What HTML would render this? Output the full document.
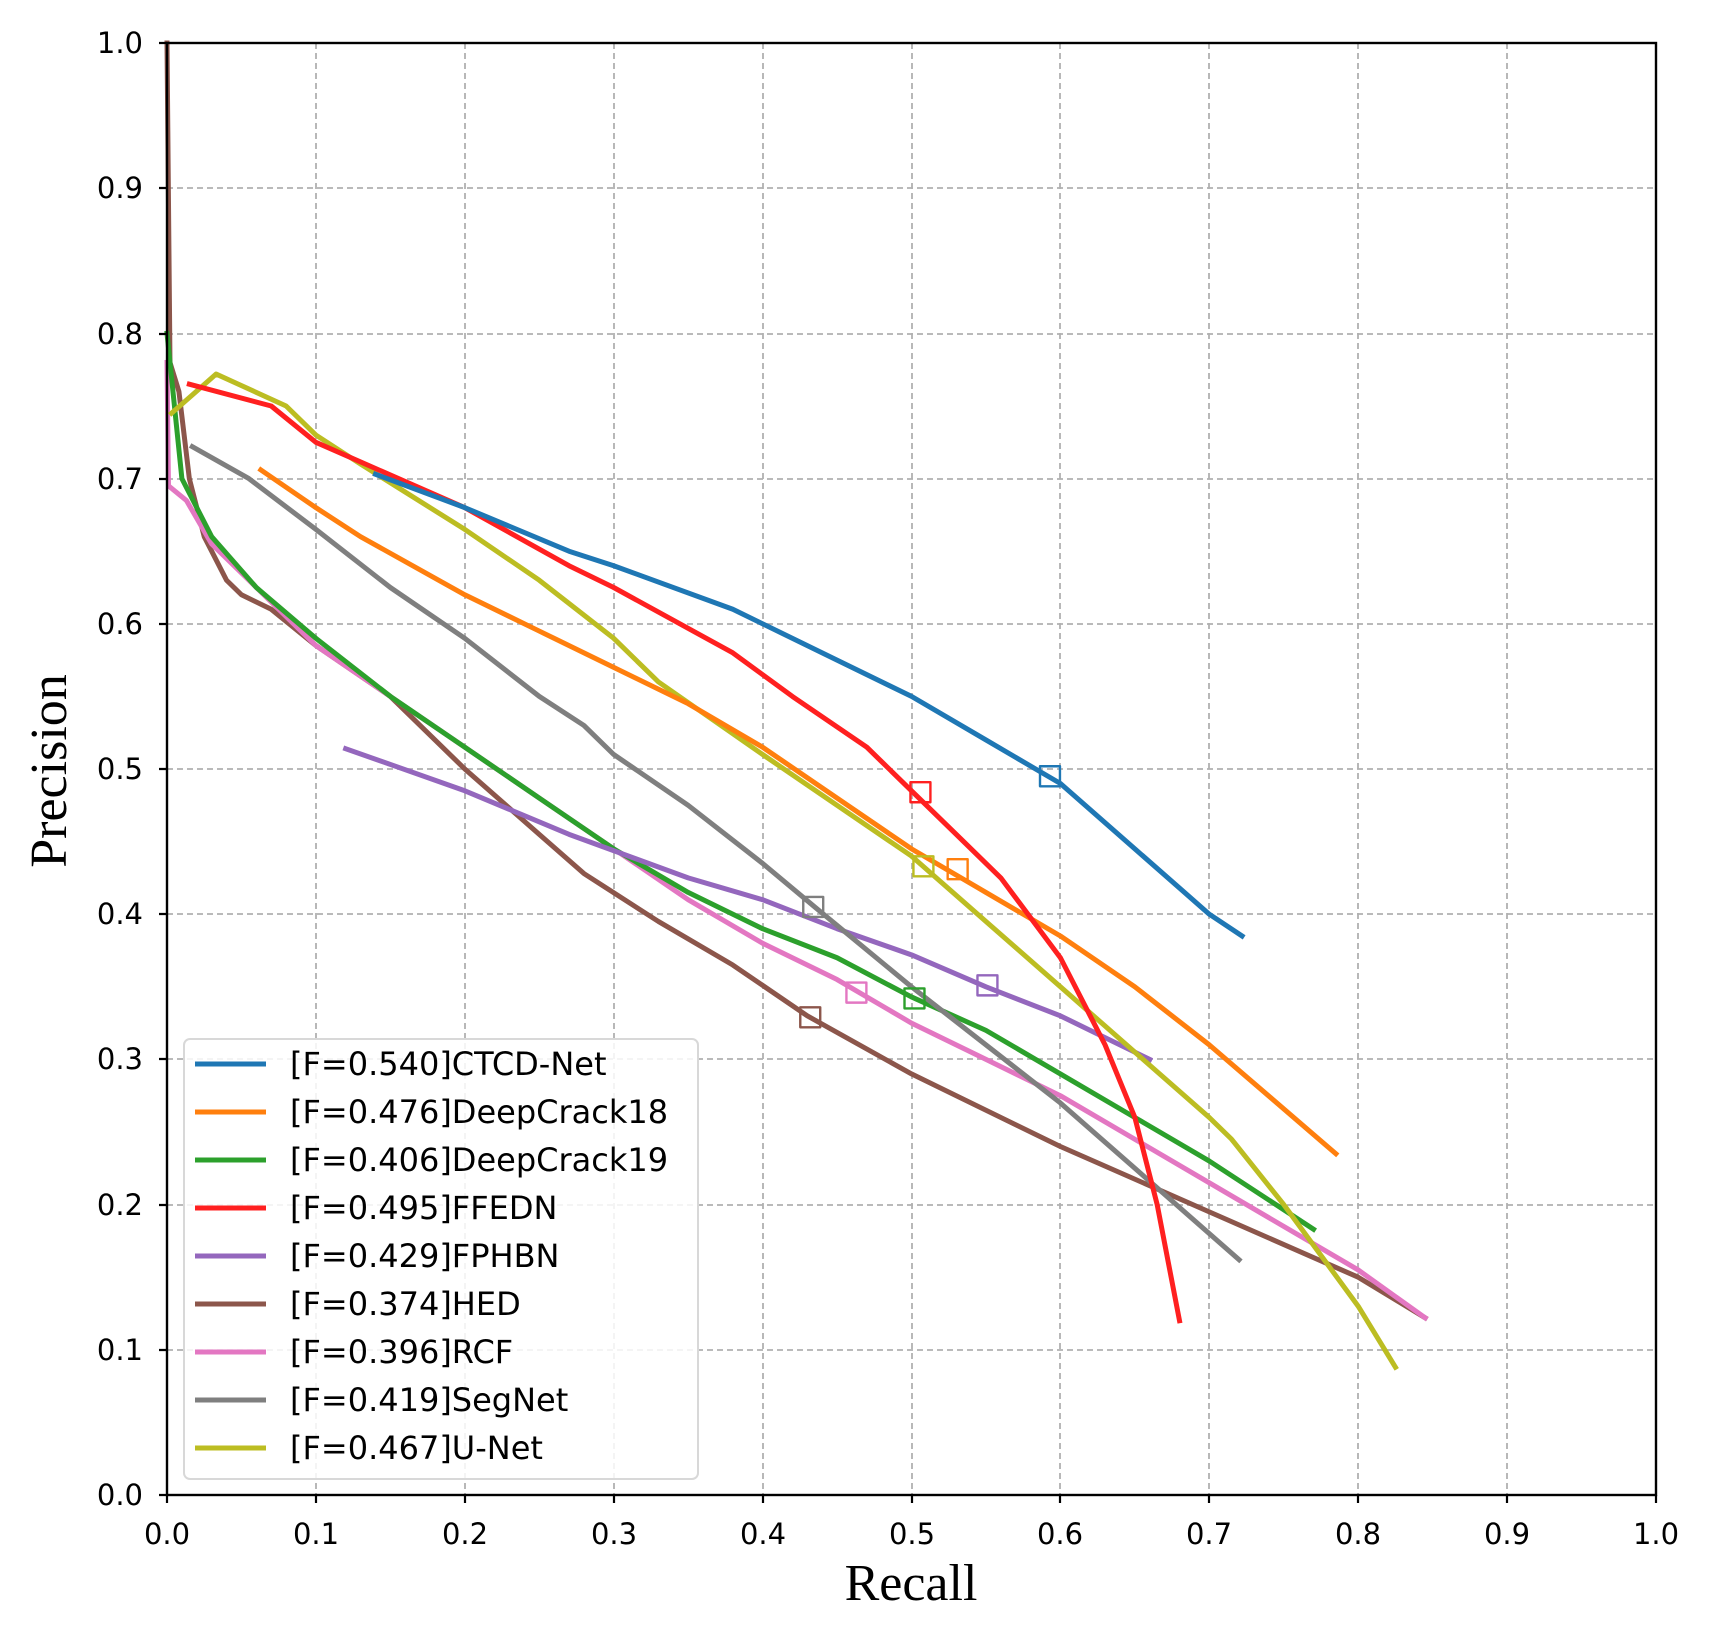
<!DOCTYPE html>
<html><head><meta charset="utf-8"><style>body{margin:0;background:#fff}</style></head><body>
<svg width="1713" height="1626" xmlns="http://www.w3.org/2000/svg" font-family="DejaVu Sans, Liberation Sans, sans-serif">
<rect width="1713" height="1626" fill="#fff"/>
<g stroke="#b0b0b0" stroke-width="1.8" stroke-dasharray="6,4" fill="none">
<path d="M316 43V1495M465 43V1495M614 43V1495M763 43V1495M912 43V1495M1060 43V1495M1209 43V1495M1358 43V1495M1507 43V1495"/>
<path d="M167 1350H1656M167 1205H1656M167 1059H1656M167 914H1656M167 769H1656M167 624H1656M167 479H1656M167 334H1656M167 188H1656"/>
</g>
<g transform="translate(167,1495) scale(1489,-1452)" fill="none" stroke-width="5" stroke-linejoin="round" stroke-linecap="square">
<polyline vector-effect="non-scaling-stroke" stroke="#8c564b" points="0,1 0.002,0.78 0.008,0.76 0.015,0.7 0.025,0.66 0.04,0.63 0.05,0.62 0.07,0.61 0.1,0.585 0.15,0.55 0.2,0.5 0.25,0.455 0.28,0.428 0.33,0.395 0.38,0.365 0.43,0.33 0.5,0.29 0.6,0.24 0.7,0.195 0.8,0.15 0.845,0.122"/>
<polyline vector-effect="non-scaling-stroke" stroke="#e377c2" points="0,0.78 0.001,0.695 0.013,0.685 0.03,0.655 0.06,0.625 0.1,0.585 0.15,0.55 0.2,0.515 0.25,0.48 0.3,0.445 0.35,0.41 0.4,0.38 0.45,0.355 0.5,0.325 0.55,0.3 0.6,0.275 0.7,0.215 0.8,0.155 0.845,0.122"/>
<polyline vector-effect="non-scaling-stroke" stroke="#2ca02c" points="0,0.8 0.01,0.7 0.03,0.66 0.06,0.625 0.1,0.59 0.15,0.55 0.2,0.515 0.25,0.48 0.3,0.445 0.35,0.415 0.4,0.39 0.45,0.37 0.5,0.343 0.55,0.32 0.6,0.29 0.65,0.26 0.7,0.23 0.77,0.183"/>
<polyline vector-effect="non-scaling-stroke" stroke="#9467bd" points="0.12,0.514 0.2,0.485 0.27,0.455 0.35,0.425 0.4,0.41 0.45,0.39 0.5,0.372 0.55,0.35 0.6,0.33 0.66,0.3"/>
<polyline vector-effect="non-scaling-stroke" stroke="#7f7f7f" points="0.017,0.722 0.055,0.7 0.1,0.665 0.15,0.625 0.2,0.59 0.25,0.55 0.28,0.53 0.3,0.51 0.35,0.475 0.4,0.435 0.435,0.405 0.5,0.35 0.55,0.31 0.6,0.27 0.65,0.225 0.72,0.162"/>
<polyline vector-effect="non-scaling-stroke" stroke="#bcbd22" points="0.003,0.745 0.033,0.772 0.08,0.75 0.1,0.73 0.13,0.71 0.2,0.665 0.25,0.63 0.3,0.59 0.33,0.56 0.4,0.51 0.45,0.475 0.5,0.44 0.55,0.395 0.6,0.35 0.65,0.305 0.7,0.26 0.715,0.245 0.75,0.2 0.8,0.13 0.825,0.088"/>
<polyline vector-effect="non-scaling-stroke" stroke="#ff7f0e" points="0.063,0.706 0.1,0.68 0.13,0.66 0.2,0.62 0.25,0.595 0.3,0.57 0.35,0.545 0.4,0.515 0.45,0.48 0.5,0.445 0.55,0.415 0.6,0.385 0.65,0.35 0.7,0.31 0.785,0.235"/>
<polyline vector-effect="non-scaling-stroke" stroke="#ff2020" points="0.015,0.765 0.07,0.75 0.1,0.725 0.2,0.68 0.27,0.64 0.3,0.625 0.38,0.58 0.42,0.55 0.47,0.515 0.5,0.485 0.53,0.455 0.56,0.425 0.6,0.37 0.63,0.31 0.65,0.26 0.665,0.2 0.68,0.12"/>
<polyline vector-effect="non-scaling-stroke" stroke="#1f77b4" points="0.14,0.703 0.2,0.68 0.27,0.65 0.3,0.64 0.38,0.61 0.45,0.575 0.5,0.55 0.55,0.52 0.6,0.49 0.65,0.445 0.7,0.4 0.722,0.385"/>
<g stroke-width="2.4" stroke-linecap="butt">
<rect vector-effect="non-scaling-stroke" stroke="#1f77b4" x="0.5863" y="0.4881" width="0.0134" height="0.0138"/>
<rect vector-effect="non-scaling-stroke" stroke="#ff2020" x="0.4993" y="0.4771" width="0.0134" height="0.0138"/>
<rect vector-effect="non-scaling-stroke" stroke="#ff7f0e" x="0.5243" y="0.4241" width="0.0134" height="0.0138"/>
<rect vector-effect="non-scaling-stroke" stroke="#bcbd22" x="0.5013" y="0.4261" width="0.0134" height="0.0138"/>
<rect vector-effect="non-scaling-stroke" stroke="#7f7f7f" x="0.4273" y="0.3981" width="0.0134" height="0.0138"/>
<rect vector-effect="non-scaling-stroke" stroke="#9467bd" x="0.5443" y="0.3441" width="0.0134" height="0.0138"/>
<rect vector-effect="non-scaling-stroke" stroke="#2ca02c" x="0.4953" y="0.3351" width="0.0134" height="0.0138"/>
<rect vector-effect="non-scaling-stroke" stroke="#e377c2" x="0.4563" y="0.3391" width="0.0134" height="0.0138"/>
<rect vector-effect="non-scaling-stroke" stroke="#8c564b" x="0.4253" y="0.3221" width="0.0134" height="0.0138"/>
</g>
</g>
<rect x="167" y="43" width="1489" height="1452" fill="none" stroke="#000" stroke-width="2.4"/>
<g stroke="#000" stroke-width="2.2">
<path d="M167 1495v8M316 1495v8M465 1495v8M614 1495v8M763 1495v8M912 1495v8M1060 1495v8M1209 1495v8M1358 1495v8M1507 1495v8M1656 1495v8"/>
<path d="M167 1495h-8M167 1350h-8M167 1205h-8M167 1059h-8M167 914h-8M167 769h-8M167 624h-8M167 479h-8M167 334h-8M167 188h-8M167 43h-8"/>
</g>
<g font-size="29" fill="#000" text-anchor="middle">
<text x="167" y="1544">0.0</text><text x="316" y="1544">0.1</text><text x="465" y="1544">0.2</text><text x="614" y="1544">0.3</text><text x="763" y="1544">0.4</text><text x="912" y="1544">0.5</text><text x="1060" y="1544">0.6</text><text x="1209" y="1544">0.7</text><text x="1358" y="1544">0.8</text><text x="1507" y="1544">0.9</text><text x="1656" y="1544">1.0</text>
</g>
<g font-size="29" fill="#000" text-anchor="end">
<text x="143" y="1505">0.0</text><text x="143" y="1360">0.1</text><text x="143" y="1215">0.2</text><text x="143" y="1069">0.3</text><text x="143" y="924">0.4</text><text x="143" y="779">0.5</text><text x="143" y="634">0.6</text><text x="143" y="489">0.7</text><text x="143" y="344">0.8</text><text x="143" y="198">0.9</text><text x="143" y="53">1.0</text>
</g>
<text x="911" y="1600" font-family="Liberation Serif, serif" font-size="52" text-anchor="middle">Recall</text>
<text transform="translate(66,771) rotate(-90)" font-family="Liberation Serif, serif" font-size="52" text-anchor="middle">Precision</text>
<rect x="184" y="1039" width="514" height="440" rx="6" fill="#fff" fill-opacity="0.85" stroke="#d8d8d8" stroke-width="2"/>
<g stroke-width="5">
<path d="M195 1064h71" stroke="#1f77b4"/><path d="M195 1112h71" stroke="#ff7f0e"/><path d="M195 1160h71" stroke="#2ca02c"/><path d="M195 1208h71" stroke="#ff2020"/><path d="M195 1256h71" stroke="#9467bd"/><path d="M195 1304h71" stroke="#8c564b"/><path d="M195 1352h71" stroke="#e377c2"/><path d="M195 1400h71" stroke="#7f7f7f"/><path d="M195 1448h71" stroke="#bcbd22"/>
</g>
<g font-size="32" fill="#000" textLength="0">
<text x="290" y="1075">[F=0.540]CTCD-Net</text><text x="290" y="1123">[F=0.476]DeepCrack18</text><text x="290" y="1171">[F=0.406]DeepCrack19</text><text x="290" y="1219">[F=0.495]FFEDN</text><text x="290" y="1267">[F=0.429]FPHBN</text><text x="290" y="1315">[F=0.374]HED</text><text x="290" y="1363">[F=0.396]RCF</text><text x="290" y="1411">[F=0.419]SegNet</text><text x="290" y="1459">[F=0.467]U-Net</text>
</g>
</svg>
</body></html>
